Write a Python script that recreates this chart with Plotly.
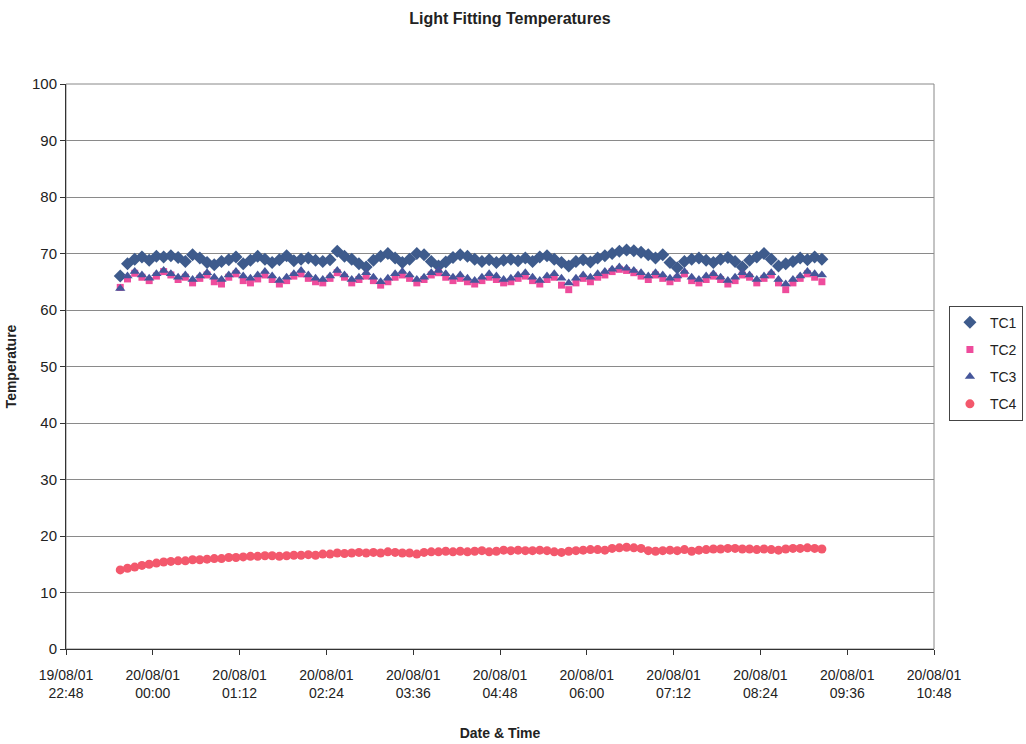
import pandas as pd
import plotly.graph_objects as go

# ---- data ----
times = pd.date_range("2001-08-19 23:33", periods=98, freq="6min")

tc1 = [66.0, 68.2, 69.0, 69.4, 68.8, 69.5, 69.4, 69.6, 69.3, 68.6,
       69.8, 69.2, 68.4, 68.0, 68.6, 68.9, 69.4, 68.2, 68.8, 69.5,
       69.0, 68.4, 68.9, 69.6, 68.7, 69.0, 69.2, 68.8, 68.6, 68.9,
       70.4, 69.5, 69.0, 68.2, 67.6, 68.8, 69.5, 70.0, 69.2, 68.4,
       69.0, 70.0, 69.8, 68.6, 67.8, 68.5, 69.3, 69.8, 69.5, 69.0,
       68.6, 68.9, 68.4, 68.8, 69.0, 68.7, 69.2, 68.6, 69.4, 69.6,
       69.0, 68.4, 67.8, 68.6, 68.9, 68.5, 69.2, 69.6, 70.0, 70.4,
       70.6, 70.5, 70.2, 69.8, 69.2, 69.8, 68.4, 67.5, 68.6, 69.0,
       69.2, 68.8, 68.4, 69.0, 69.3, 68.6, 67.6, 68.8, 69.4, 70.0,
       69.0, 67.8, 68.2, 68.6, 69.2, 68.9, 69.4, 69.0]

tc2 = [64.0, 65.5, 66.5, 65.8, 65.2, 66.0, 66.8, 66.2, 65.4, 65.8,
       64.8, 65.6, 66.2, 65.0, 64.6, 65.8, 66.4, 65.2, 64.8, 65.5,
       66.2, 65.4, 64.6, 65.2, 66.0, 66.4, 65.6, 65.0, 64.8, 65.6,
       66.6, 65.8, 64.8, 65.4, 66.0, 65.2, 64.4, 65.0, 65.8, 66.2,
       65.6, 64.8, 65.4, 66.2, 66.6, 65.8, 65.2, 65.6, 65.0, 64.6,
       65.2, 65.8, 65.4, 64.8, 65.0, 65.6, 66.0, 65.2, 64.6, 65.4,
       65.8, 64.4, 63.6, 64.8, 65.6, 65.0, 65.8, 66.2, 66.8, 67.2,
       67.0, 66.6, 66.0, 65.4, 66.2, 65.6, 65.0, 65.6, 66.4, 65.2,
       64.8, 65.4, 66.0, 65.4, 64.6, 65.2, 66.2, 65.8, 64.8, 65.6,
       66.2, 64.8, 63.6, 64.8, 65.6, 66.4, 65.8, 65.0]

tc3 = [63.8, 66.0, 66.8, 66.2, 65.6, 66.4, 67.0, 66.4, 65.8, 66.2,
       65.4, 66.0, 66.6, 65.8, 65.4, 66.2, 66.8, 66.0, 65.6, 66.2,
       66.8, 66.0, 65.2, 65.8, 66.4, 67.0, 66.2, 65.6, 65.4, 66.0,
       67.0, 66.2, 65.4, 65.8, 66.6, 65.8, 65.0, 65.6, 66.4, 66.8,
       66.2, 65.4, 65.8, 66.6, 67.0, 66.4, 65.8, 66.2, 65.6, 65.2,
       65.8, 66.4, 66.0, 65.4, 65.6, 66.2, 66.6, 65.8, 65.2, 66.0,
       66.4, 65.6, 64.8, 65.6, 66.2, 65.8, 66.4, 66.8, 67.2, 67.6,
       67.4, 67.0, 66.6, 66.0, 66.6, 66.2, 65.6, 66.0, 66.8, 65.8,
       65.4, 66.0, 66.4, 65.8, 65.2, 65.8, 66.6, 66.2, 65.4, 66.0,
       66.6, 65.4, 64.6, 65.4, 66.0, 66.8, 66.4, 66.2]

tc4 = [14.0, 14.3, 14.5, 14.8, 15.0, 15.2, 15.4, 15.5, 15.6, 15.6,
       15.8, 15.8, 15.9, 16.0, 16.0, 16.2, 16.2, 16.3, 16.4, 16.4,
       16.5, 16.5, 16.4, 16.5, 16.6, 16.6, 16.7, 16.6, 16.8, 16.8,
       17.0, 16.9, 17.0, 17.1, 17.0, 17.1, 17.0, 17.2, 17.1, 17.0,
       17.0, 16.8, 17.1, 17.2, 17.2, 17.3, 17.2, 17.3, 17.2, 17.3,
       17.4, 17.2, 17.3, 17.5, 17.4, 17.5, 17.4, 17.4, 17.5, 17.4,
       17.2, 17.1, 17.3, 17.4, 17.5, 17.6, 17.6, 17.5, 17.8, 17.9,
       18.0, 17.9, 17.8, 17.4, 17.3, 17.4, 17.5, 17.4, 17.6, 17.3,
       17.5, 17.6, 17.7, 17.7, 17.8, 17.8, 17.7, 17.7, 17.6, 17.7,
       17.6, 17.5, 17.7, 17.8, 17.8, 17.9, 17.8, 17.7]

tick_times = pd.date_range("2001-08-19 22:48", periods=11, freq="72min")
tick_labels = ["19/08/01<br>22:48", "20/08/01<br>00:00", "20/08/01<br>01:12",
               "20/08/01<br>02:24", "20/08/01<br>03:36", "20/08/01<br>04:48",
               "20/08/01<br>06:00", "20/08/01<br>07:12", "20/08/01<br>08:24",
               "20/08/01<br>09:36", "20/08/01<br>10:48"]

FONT = "Liberation Sans, Arial, sans-serif"

fig = go.Figure()
fig.add_trace(go.Scatter(x=times, y=tc1, name="TC1", mode="markers", legendgroup="a",
                         marker=dict(symbol="diamond", size=10, color="#3E5B8C")))
fig.add_trace(go.Scatter(x=times, y=tc2, name="TC2", mode="markers", legendgroup="b",
                         marker=dict(symbol="square", size=7, color="#EE4C9C")))
fig.add_trace(go.Scatter(x=times, y=tc3, name="TC3", mode="markers", legendgroup="c",
                         marker=dict(symbol="triangle-up", size=9, color="#45569A")))
fig.add_trace(go.Scatter(x=times, y=tc4, name="TC4", mode="markers", legendgroup="d",
                         marker=dict(symbol="circle", size=9, color="#F3586C")))

fig.update_layout(
    width=1026, height=744,
    paper_bgcolor="white", plot_bgcolor="white",
    margin=dict(l=66, r=92, t=84, b=95, autoexpand=False),
    font=dict(family=FONT, size=13, color="#222"),
    title=dict(text="<b>Light Fitting Temperatures</b>", x=0.497, xanchor="center",
               y=0.975, yanchor="middle", font=dict(size=16, color="#222")),
    showlegend=True,
    legend=dict(x=1.0, xref="paper", xanchor="right", y=0.506, yanchor="middle",
                bordercolor="#444", borderwidth=1, bgcolor="white",
                font=dict(size=14), tracegroupgap=6, itemwidth=30),
)
# place legend at the right edge of the page
fig.update_layout(legend=dict(xref="container", x=0.997))
fig.update_xaxes(
    type="date",
    range=[tick_times[0], tick_times[-1]],
    tickmode="array", tickvals=tick_times, ticktext=tick_labels,
    showgrid=False, showline=True, linecolor="#333", linewidth=1,
    ticks="outside", ticklen=5, tickcolor="#333", ticklabelstandoff=8,
    title=dict(text="<b>Date &amp; Time</b>", font=dict(size=14), standoff=28),
    tickfont=dict(size=14),
)
fig.update_yaxes(
    range=[0, 100], dtick=10,
    showgrid=True, gridcolor="#8a8a8a", gridwidth=1,
    showline=True, linecolor="#333", linewidth=1,
    ticks="outside", ticklen=5, tickcolor="#333",
    zeroline=False,
    title=dict(text="<b>Temperature</b>", font=dict(size=14), standoff=12),
    tickfont=dict(size=15),
)
fig.add_shape(type="rect", xref="paper", yref="paper", x0=0, y0=0, x1=1, y1=1,
              line=dict(color="#888", width=1), layer="below")

fig.write_html("out.html")
